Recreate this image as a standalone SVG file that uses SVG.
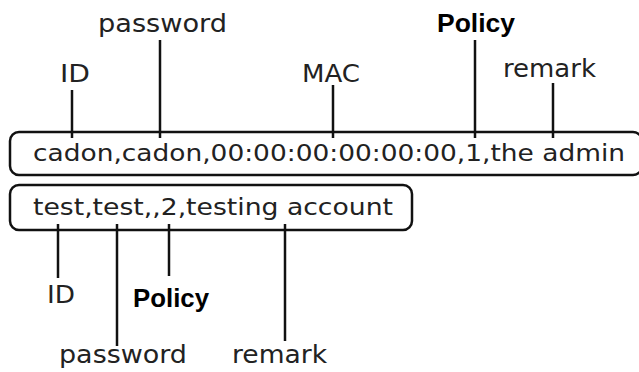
<svg xmlns="http://www.w3.org/2000/svg" width="639" height="372" viewBox="0 0 639 372">
<style>
.lbl{font-family:"DejaVu Sans",Verdana,sans-serif;font-size:24.5px;fill:#222}
.pol{font-family:"Liberation Sans",Arial,sans-serif;font-weight:bold;font-size:25px;fill:#000}
.rec{font-family:"DejaVu Sans",Verdana,sans-serif;font-size:23px;fill:#222}
.box{fill:#fff;stroke:#111;stroke-width:2.5}
.ln{stroke:#111;stroke-width:2.5;fill:none}
</style>
<rect width="639" height="372" fill="#fff"/>
<g id="record1">
<rect class="box" x="10" y="132" width="632" height="43" rx="9"/>
<text class="rec" x="33" y="161" textLength="592" lengthAdjust="spacingAndGlyphs">cadon,cadon,00:00:00:00:00:00,1,the admin</text>
</g>
<g id="record2">
<rect class="box" x="10" y="185" width="402" height="45" rx="9"/>
<text class="rec" x="33" y="215" textLength="360" lengthAdjust="spacingAndGlyphs">test,test,,2,testing account</text>
</g>
<g id="labels-top">
<text class="lbl" x="98" y="32" textLength="129" lengthAdjust="spacingAndGlyphs">password</text>
<text class="lbl" x="60" y="82" textLength="30" lengthAdjust="spacingAndGlyphs">ID</text>
<text class="lbl" x="302" y="82" textLength="58" lengthAdjust="spacingAndGlyphs">MAC</text>
<text class="pol" x="437" y="32" textLength="78" lengthAdjust="spacingAndGlyphs">Policy</text>
<text class="lbl" x="503" y="77" textLength="93" lengthAdjust="spacingAndGlyphs">remark</text>
</g>
<g id="labels-bottom">
<text class="lbl" x="47" y="303" textLength="28" lengthAdjust="spacingAndGlyphs">ID</text>
<text class="pol" x="133" y="307" textLength="76" lengthAdjust="spacingAndGlyphs">Policy</text>
<text class="lbl" x="59" y="363" textLength="128" lengthAdjust="spacingAndGlyphs">password</text>
<text class="lbl" x="232" y="363" textLength="95" lengthAdjust="spacingAndGlyphs">remark</text>
</g>
<g id="connectors">
<line class="ln" x1="72" y1="90" x2="72" y2="138"/>
<line class="ln" x1="160" y1="40" x2="160" y2="138"/>
<line class="ln" x1="333" y1="85" x2="333" y2="138"/>
<line class="ln" x1="475" y1="40" x2="475" y2="138"/>
<line class="ln" x1="553" y1="83" x2="553" y2="138"/>
<line class="ln" x1="58" y1="224" x2="58" y2="278"/>
<line class="ln" x1="117" y1="224" x2="117" y2="346"/>
<line class="ln" x1="169" y1="224" x2="169" y2="276"/>
<line class="ln" x1="285" y1="224" x2="285" y2="341"/>
</g>
</svg>
